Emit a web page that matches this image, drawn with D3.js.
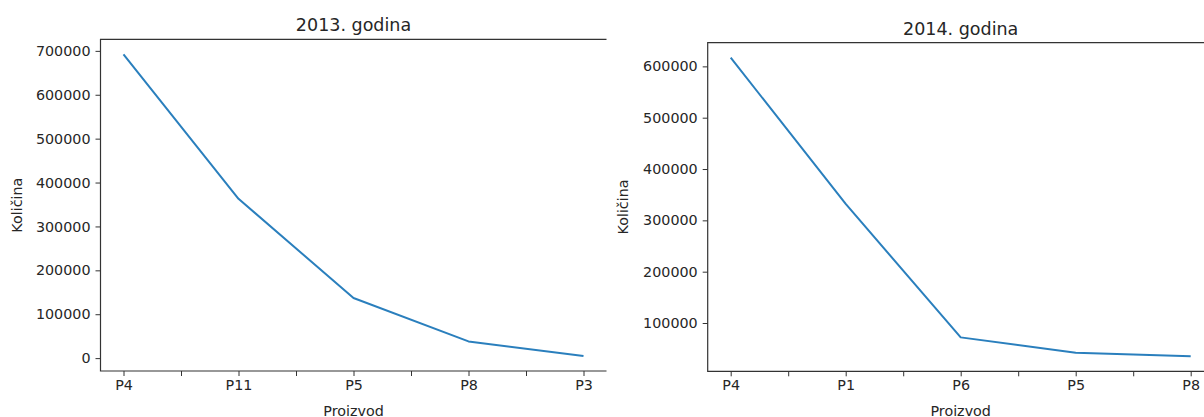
<!DOCTYPE html>
<html>
<head>
<meta charset="utf-8">
<script src="https://cdn.jsdelivr.net/npm/d3@7"></script>
<style>
  body { margin: 0; background: #fff; }
  text { font-family: "DejaVu Sans", sans-serif; fill: #262626; }
</style>
</head>
<body>
<div id="canvas"></div>
<script>
const products2013 = ["P4", "P11", "P5", "P8", "P3"];
const values2013 = [692000, 363000, 137000, 38000, 5000];
const yTicks2013 = [0, 100000, 200000, 300000, 400000, 500000, 600000, 700000];

const products2014 = ["P4", "P1", "P6", "P5", "P8"];
const values2014 = [617000, 332000, 72000, 42000, 35000];
const yTicks2014 = [100000, 200000, 300000, 400000, 500000, 600000];

const w = 1204;
const h = 417;

const svg = d3.select("#canvas")
              .append("svg")
              .attr("width", w)
              .attr("height", h)

function render(params){
  const {left, right, top, bottom, title, cats, vals, yTicks, yLabelX} = params;
  const g = svg.append("g");

  // matplotlib style 5% margins
  const n = cats.length;
  const xPad = (n - 1) * 0.05;
  const x = d3.scaleLinear()
              .domain([-xPad, n - 1 + xPad])
              .range([left, right])

  const lo = d3.min(vals), hi = d3.max(vals);
  const yPad = (hi - lo) * 0.05;
  const y = d3.scaleLinear()
              .domain([lo - yPad, hi + yPad])
              .range([bottom, top])

  // x axis: ticks every half step, labels on whole steps
  const halfTicks = d3.range(0, n - 1 + 0.01, 0.5);
  const xAxis = d3.axisBottom(x)
                  .tickValues(halfTicks)
                  .tickSize(5)
                  .tickSizeOuter(0)
                  .tickPadding(4)
                  .tickFormat(d => Number.isInteger(d) ? cats[d] : "")
  const gx = g.append("g")
              .attr("transform", "translate(0," + bottom + ")")
              .call(xAxis)
  gx.select(".domain").remove();

  const yAxis = d3.axisLeft(y)
                  .tickValues(yTicks)
                  .tickSize(5)
                  .tickSizeOuter(0)
                  .tickPadding(5)
                  .tickFormat(d3.format("d"))
  const gy = g.append("g")
              .attr("transform", "translate(" + left + ",0)")
              .call(yAxis)
  gy.select(".domain").remove();

  [gx, gy].forEach(a => {
    a.selectAll(".tick line").attr("stroke", "#333").attr("stroke-width", 1);
    a.selectAll(".tick text").attr("font-size", 14.3).attr("fill", "#262626");
  });

  // spines (right one falls outside the crop)
  const edge = Math.min(right, w);
  g.append("path")
   .attr("d", "M" + edge + "," + top + "H" + left + "V" + bottom + "H" + edge)
   .attr("fill", "none")
   .attr("stroke", "#333")
   .attr("stroke-width", 1.2)

  const line = d3.line()
                 .x((d, i) => x(i))
                 .y(d => y(d))
  g.append("path")
   .datum(vals)
   .attr("d", line)
   .attr("fill", "none")
   .attr("stroke", "#2a7fbd")
   .attr("stroke-width", 2)
   .attr("stroke-linejoin", "round")

  g.append("text")
   .attr("x", (left + right) / 2)
   .attr("y", top - 8)
   .attr("text-anchor", "middle")
   .attr("font-size", 17.5)
   .text(title)

  g.append("text")
   .attr("x", (left + right) / 2)
   .attr("y", 415.5)
   .attr("text-anchor", "middle")
   .attr("font-size", 14.3)
   .text("Proizvod")

  g.append("text")
   .attr("transform", "translate(" + yLabelX + "," + (top + bottom) / 2 + ") rotate(-90)")
   .attr("text-anchor", "middle")
   .attr("font-size", 14.3)
   .text("Količina")
}

render({
  left: 100.5, right: 606.5, top: 39.3, bottom: 371,
  title: "2013. godina",
  cats: products2013, vals: values2013, yTicks: yTicks2013,
  yLabelX: 22
})

render({
  left: 707.7, right: 1213.7, top: 42.7, bottom: 371.3,
  title: "2014. godina",
  cats: products2014, vals: values2014, yTicks: yTicks2014,
  yLabelX: 628
})
</script>
</body>
</html>
